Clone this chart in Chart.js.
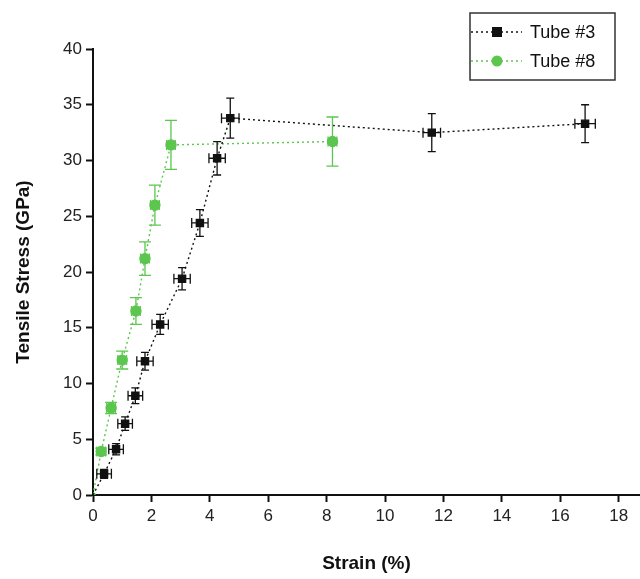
<!DOCTYPE html>
<html lang="en">
<head>
  <meta charset="UTF-8">
  <title>Tensile Stress vs Strain</title>
  <script src="https://cdn.jsdelivr.net/npm/chart.js"></script>
  <style>
    html, body { margin: 0; padding: 0; background: #fff; }
    #wrap { width: 640px; height: 579px; }
  </style>
</head>
<body>
  <div id="wrap"><canvas id="stressChart" width="640" height="579"></canvas></div>

  <script>
    // Tube #3 (black squares)
    const strainTube3 = [0, 0.38, 0.79, 1.1, 1.45, 1.78, 2.3, 3.05, 3.66, 4.25, 4.7, 11.6, 16.85];
    const stressTube3 = [0, 1.9, 4.1, 6.4, 8.9, 12.0, 15.3, 19.4, 24.4, 30.2, 33.8, 32.5, 33.3];
    const strainErrTube3 = [0, 0.25, 0.25, 0.25, 0.25, 0.28, 0.28, 0.28, 0.28, 0.28, 0.3, 0.3, 0.35];
    const stressErrTube3 = [0, 0.4, 0.5, 0.6, 0.7, 0.8, 0.9, 1.0, 1.2, 1.5, 1.8, 1.7, 1.7];

    // Tube #8 (green circles)
    const strainTube8 = [0, 0.28, 0.62, 1.0, 1.47, 1.78, 2.12, 2.67, 8.2];
    const stressTube8 = [0, 3.9, 7.8, 12.1, 16.5, 21.2, 26.0, 31.4, 31.7];
    const strainErrTube8 = [0, 0.15, 0.15, 0.15, 0.15, 0.15, 0.15, 0.15, 0.15];
    const stressErrTube8 = [0, 0.3, 0.5, 0.8, 1.2, 1.5, 1.8, 2.2, 2.2];

    const seriesNames = ['Tube #3', 'Tube #8'];
    const xTicks = [0, 2, 4, 6, 8, 10, 12, 14, 16, 18];

    const black = '#111111';
    const green = '#5cc64e';
    const font = "'Liberation Sans', Arial, sans-serif";

    const toPoints = (xs, ys) => xs.map((x, i) => ({ x, y: ys[i] }));

    const errors = [
      { dx: strainErrTube3, dy: stressErrTube3, color: black },
      { dx: strainErrTube8, dy: stressErrTube8, color: green }
    ];

    const errorBarPlugin = {
      id: 'errorBars',
      afterDatasetsDraw(chart) {
        const { ctx, scales: { x, y } } = chart;
        ctx.save();
        ctx.lineWidth = 1.3;
        chart.data.datasets.forEach((ds, di) => {
          const e = errors[di];
          ctx.strokeStyle = e.color;
          ds.data.forEach((p, i) => {
            if (!e.dy[i] && !e.dx[i]) return;
            const px = x.getPixelForValue(p.x), py = y.getPixelForValue(p.y);
            const y1 = y.getPixelForValue(p.y + e.dy[i]), y2 = y.getPixelForValue(p.y - e.dy[i]);
            const x1 = x.getPixelForValue(p.x - e.dx[i]), x2 = x.getPixelForValue(p.x + e.dx[i]);
            const cap = di === 0 ? 4 : 6;
            ctx.beginPath();
            ctx.moveTo(px, y1); ctx.lineTo(px, y2);
            ctx.moveTo(px - cap, y1); ctx.lineTo(px + cap, y1);
            ctx.moveTo(px - cap, y2); ctx.lineTo(px + cap, y2);
            ctx.moveTo(x1, py); ctx.lineTo(x2, py);
            ctx.moveTo(x1, py - 5); ctx.lineTo(x1, py + 5);
            ctx.moveTo(x2, py - 5); ctx.lineTo(x2, py + 5);
            ctx.stroke();
          });
        });
        ctx.restore();
      }
    };

    // legend box drawn by hand, top right
    const legendPlugin = {
      id: 'boxLegend',
      afterDraw(chart) {
        const ctx = chart.ctx;
        const bx = 470, by = 13, bw = 145, bh = 67;
        ctx.save();
        ctx.strokeStyle = '#333';
        ctx.lineWidth = 1.5;
        ctx.strokeRect(bx, by, bw, bh);
        chart.data.datasets.forEach((ds, i) => {
          const ly = by + 19 + i * 29;
          ctx.strokeStyle = ds.borderColor;
          ctx.lineWidth = 1.4;
          ctx.setLineDash([2, 3]);
          ctx.beginPath();
          ctx.moveTo(bx + 1, ly); ctx.lineTo(bx + 52, ly);
          ctx.stroke();
          ctx.setLineDash([]);
          ctx.fillStyle = ds.borderColor;
          if (i === 0) {
            ctx.fillRect(bx + 22, ly - 5, 10, 10);
          } else {
            ctx.beginPath();
            ctx.arc(bx + 27, ly, 5.5, 0, Math.PI * 2);
            ctx.fill();
          }
          ctx.fillStyle = '#111';
          ctx.font = '18px ' + font;
          ctx.textBaseline = 'middle';
          ctx.fillText(seriesNames[i], bx + 60, ly + 1);
        });
        ctx.restore();
      }
    };

    new Chart(document.getElementById('stressChart'), {
      type: 'scatter',
      data: {
        datasets: [
          {
            label: seriesNames[0],
            data: toPoints(strainTube3, stressTube3),
            showLine: true,
            borderColor: black,
            backgroundColor: black,
            borderWidth: 1.4,
            borderDash: [2, 3],
            pointStyle: 'rect',
            pointRadius: strainTube3.map((_, i) => i === 0 ? 0 : 5),
            order: 1
          },
          {
            label: seriesNames[1],
            data: toPoints(strainTube8, stressTube8),
            showLine: true,
            borderColor: green,
            backgroundColor: green,
            borderWidth: 1.4,
            borderDash: [2, 3],
            pointStyle: 'circle',
            pointRadius: strainTube8.map((_, i) => i === 0 ? 2 : 5),
            order: 2
          }
        ]
      },
      options: {
        responsive: false,
        animation: false,
        layout: { autoPadding: false, padding: { top: 49, right: 0, left: 0, bottom: 0 } },
        plugins: { legend: { display: false }, tooltip: { enabled: false } },
        scales: {
          x: {
            type: 'linear',
            min: 0,
            max: 18.73,
            afterBuildTicks: s => { s.ticks = xTicks.map(v => ({ value: v })); },
            afterFit: s => { s.height = 84; s.paddingRight = 0; },
            border: { color: '#111', width: 2 },
            grid: { drawOnChartArea: false, tickLength: 7, tickWidth: 2, color: '#111' },
            ticks: { color: '#222', font: { family: font, size: 17 }, padding: 4 },
            title: { display: true, text: 'Strain (%)', color: '#111', font: { family: font, size: 19, weight: 'bold' }, padding: { top: 18 } }
          },
          y: {
            min: 0,
            max: 40,
            afterFit: s => { s.width = 93; },
            border: { color: '#111', width: 2 },
            grid: { drawOnChartArea: false, tickLength: 7, tickWidth: 2, color: '#111' },
            ticks: { stepSize: 5, color: '#222', font: { family: font, size: 17 }, padding: 4 },
            title: { display: true, text: 'Tensile Stress (GPa)', color: '#111', font: { family: font, size: 19, weight: 'bold' }, padding: { top: 12, bottom: 0 } }
          }
        }
      },
      plugins: [errorBarPlugin, legendPlugin]
    });
  </script>
</body>
</html>
